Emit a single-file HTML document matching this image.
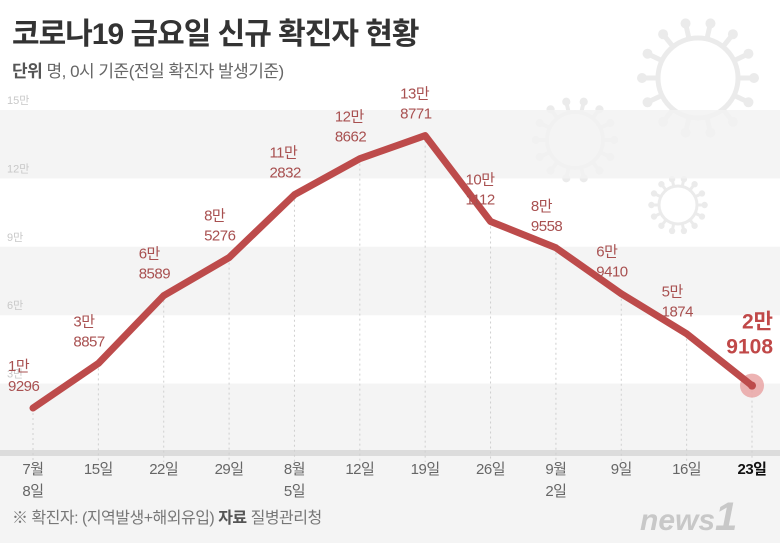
<!DOCTYPE html>
<html><head><meta charset="utf-8">
<style>
body{margin:0;background:#fff;font-family:"Liberation Sans","Noto Sans CJK KR",sans-serif;}
#wrap{position:relative;width:780px;height:543px;overflow:hidden;background:#fff;}
svg text{font-family:"Liberation Sans","Noto Sans CJK KR",sans-serif;}
</style></head>
<body>
<div id="wrap">
<svg id="chart" width="780" height="543">
  <rect x="0" y="455" width="780" height="88" fill="#f4f4f4"/>
  <g id="virus" fill="none" stroke="#ebebeb"></g>
  <g id="bands"></g>
  <g id="grid"></g>
  <text x="12" y="44" font-size="30" font-weight="bold" fill="#333" letter-spacing="-1">코로나19 금요일 신규 확진자 현황</text>
  <text x="12" y="77" font-size="17" fill="#666" letter-spacing="-0.5"><tspan font-weight="bold" fill="#555">단위</tspan>  명, 0시 기준(전일 확진자 발생기준)</text>
  <g id="plot"></g>
  <text x="12" y="523" font-size="16" fill="#777" letter-spacing="-0.5">※ 확진자: (지역발생+해외유입)  <tspan font-weight="bold" fill="#555">자료</tspan>  질병관리청</text>
  <text x="640" y="530" font-size="30" font-weight="bold" font-style="italic" fill="#c8c8c8">news<tspan font-size="40">1</tspan></text>
</svg>
</div>
<script>
const categories=["7월|8일","15일","22일","29일","8월|5일","12일","19일","26일","9월|2일","9일","16일","23일"];
const values=[19296,38857,68589,85276,112832,128662,138771,101112,89558,69410,51874,29108];
const labelTop=["1만","3만","6만","8만","11만","12만","13만","10만","8만","6만","5만","2만"];
const labelBottom=["9296","8857","8589","5276","2832","8662","8771","1112","9558","9410","1874","9108"];
const yTicks=[30000,60000,90000,120000,150000];
const yTickLabels=["3만","6만","9만","12만","15만"];
const NS="http://www.w3.org/2000/svg";
const x0=33,x1=752,yBase=452,yTop=110,yMax=150000;
const X=i=>x0+(x1-x0)*i/(categories.length-1);
const Y=v=>yBase-(yBase-yTop)*v/yMax;
function mk(tag,attrs,parent){const e=document.createElementNS(NS,tag);for(const k in attrs)e.setAttribute(k,attrs[k]);parent.appendChild(e);return e;}
const bands=document.getElementById('bands'),grid=document.getElementById('grid'),plot=document.getElementById('plot');
const vg=document.getElementById('virus');
[[698,78,40,5],[575,140,28,4],[678,205,19,3]].forEach(([cx,cy,r,w])=>{
  const c=mk('circle',{cx,cy,r,'stroke-width':w},vg);
  
  for(let a=0;a<14;a++){const t=a*Math.PI*2/14;mk('line',{x1:cx+r*Math.cos(t),y1:cy+r*Math.sin(t),x2:cx+(r*1.35)*Math.cos(t),y2:cy+(r*1.35)*Math.sin(t),'stroke-width':w},vg);
  mk('circle',{cx:cx+r*1.4*Math.cos(t),cy:cy+r*1.4*Math.sin(t),r:w*0.9,fill:'#ebebeb'},vg);}
});
for(let i=0;i<yTicks.length;i++){
  const lo=i===0?0:yTicks[i-1],hi=yTicks[i];
  if(i%2===0){const r=mk('rect',{x:0,y:Y(hi),width:780,height:Y(lo)-Y(hi),fill:'#f2f2f2','fill-opacity':0.85},bands);
    }
  const t=mk('text',{x:7,y:Y(hi)-6,'font-size':11,fill:'#c8c8c8'},grid);t.textContent=yTickLabels[i];
  
}
const base=mk('rect',{x:0,y:yBase-2,width:780,height:6,fill:'#dcdcdc'},grid);

categories.forEach((c,i)=>{
  const l=mk('line',{x1:X(i),x2:X(i),y1:Y(values[i]),y2:yBase+10,stroke:'#cfcfcf','stroke-dasharray':'2,3'},grid);
  
  const parts=c.split('|');const last=i===categories.length-1;
  parts.forEach((p,j)=>{const t=mk('text',{x:X(i),y:474+j*22,'text-anchor':'middle','font-size':15,'letter-spacing':-0.5,fill:last?'#111':'#666','font-weight':last?'bold':'normal'},grid);t.textContent=p;
    });
});
const n=values.length-1;
const halo=mk('circle',{cx:X(n),cy:Y(values[n]),r:12,fill:'#e9a0a0','fill-opacity':0.8},plot);

const path=mk('polyline',{points:values.map((v,i)=>X(i)+','+Y(v)).join(' '),fill:'none',stroke:'#bd4b4b','stroke-width':7,'stroke-linejoin':'round','stroke-linecap':'round'},plot);

const dot=mk('circle',{cx:X(n),cy:Y(values[n]),r:4,fill:'#bd4b4b'},plot);

values.forEach((v,i)=>{
  if(i===n){
    const a=mk('text',{x:773,y:Y(v)-57,'text-anchor':'end','font-size':21,'font-weight':'bold',fill:'#c04848'},plot);a.textContent=labelTop[i];
    
    const b=mk('text',{x:773,y:Y(v)-32,'text-anchor':'end','font-size':21,'font-weight':'bold',fill:'#c04848'},plot);b.textContent=labelBottom[i];
    
    return;}
  const a=mk('text',{x:X(i)-25,y:Y(v)-37,'font-size':15,'letter-spacing':-0.5,fill:'#a85050'},plot);a.textContent=labelTop[i];
  
  const b=mk('text',{x:X(i)-25,y:Y(v)-17,'font-size':15,'letter-spacing':-0.5,fill:'#a85050'},plot);b.textContent=labelBottom[i];
  
});
</script>
</body></html>
